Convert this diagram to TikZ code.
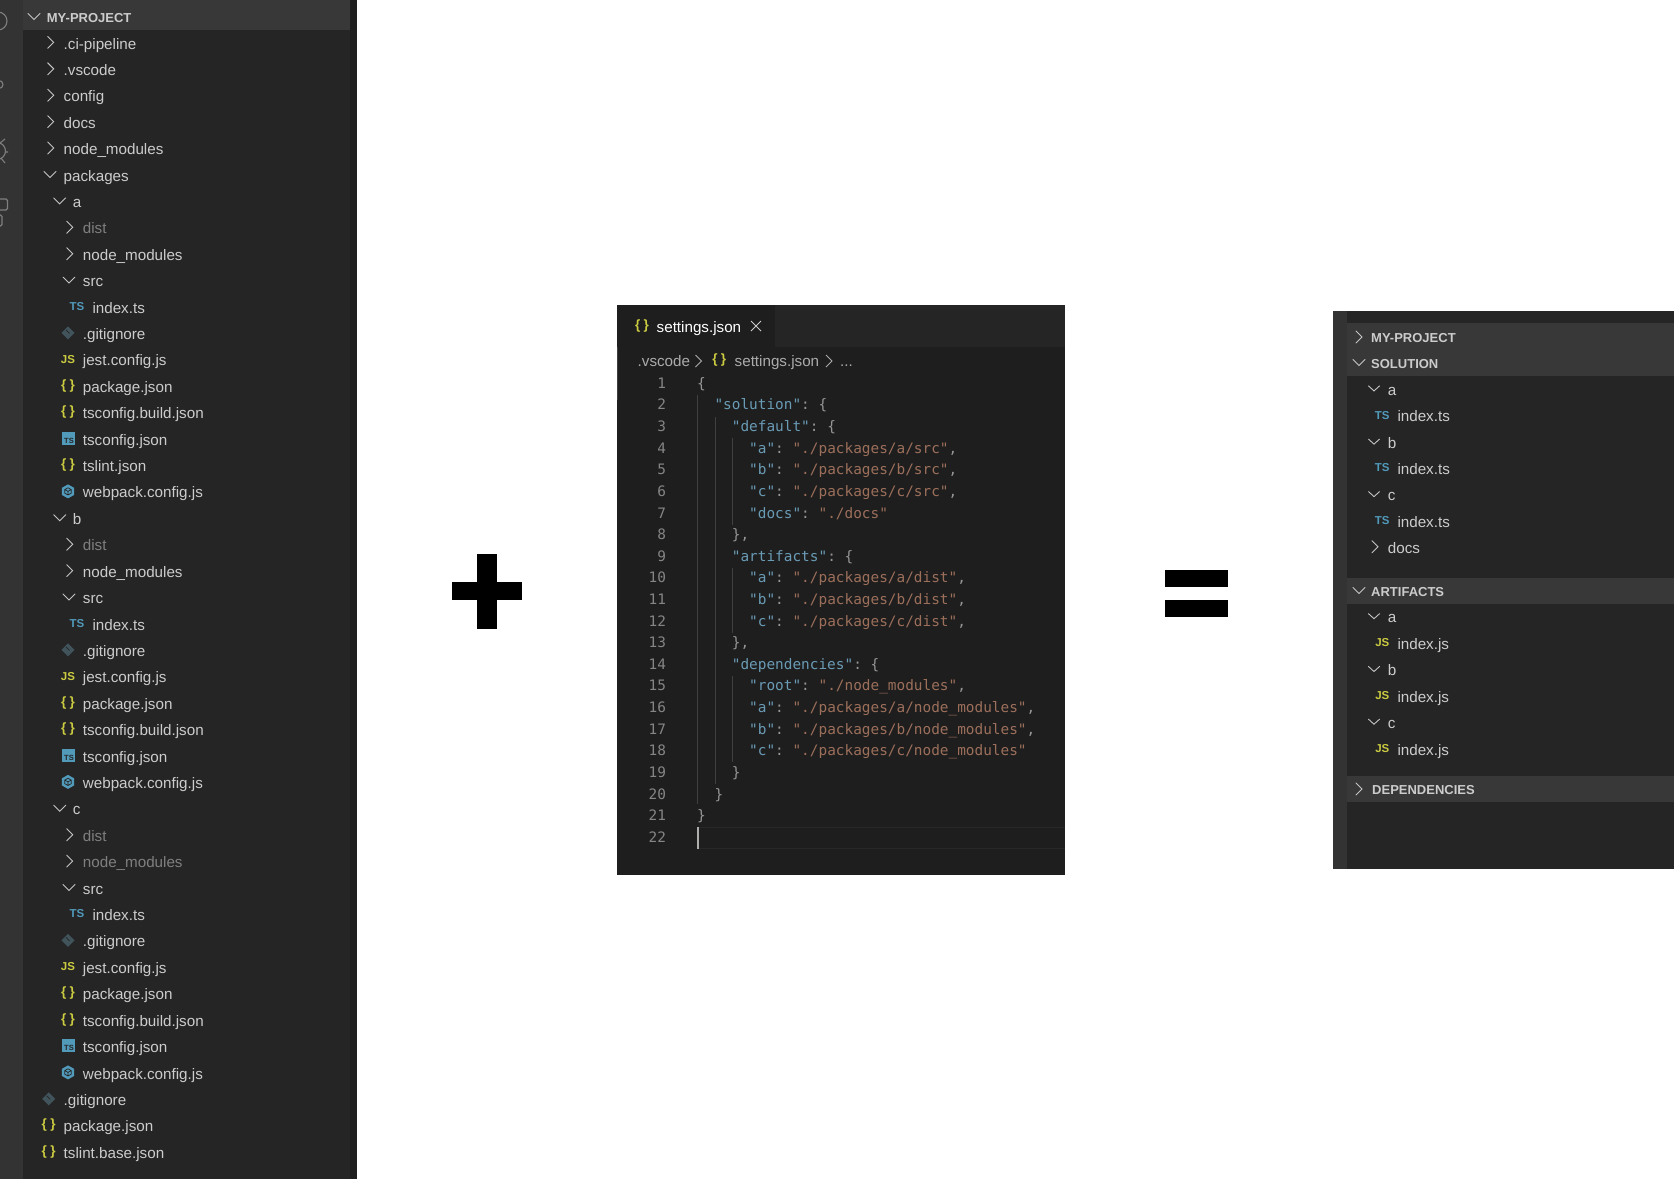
\documentclass[tikz,border=0pt]{standalone}
\usepackage{fontspec}
\setmainfont{Liberation Sans}
\setmonofont{DejaVu Sans Mono}
\definecolor{actbar}{HTML}{333333}
\definecolor{side}{HTML}{252526}
\definecolor{band}{HTML}{383838}
\definecolor{edit}{HTML}{1E1E1E}
\definecolor{strip}{HTML}{1E1E1E}
\definecolor{txt}{HTML}{CCCCCC}
\definecolor{dim}{HTML}{7F7F7F}
\definecolor{chev}{HTML}{C5C5C5}
\definecolor{icblue}{HTML}{519ABA}
\definecolor{icyel}{HTML}{CBCB41}
\definecolor{icgit}{HTML}{41535B}
\definecolor{ckey}{HTML}{6A9BB5}
\definecolor{cstr}{HTML}{9C6F5B}
\definecolor{cpun}{HTML}{969696}
\definecolor{cnum}{HTML}{858585}
\definecolor{guide}{HTML}{404040}
\definecolor{crumb}{HTML}{ABABAB}
\definecolor{curline}{HTML}{282828}
\definecolor{caret}{HTML}{AEAFAD}
\tikzset{
  lab/.style={anchor=base west,inner sep=0pt,text=txt,font=\fontsize{15.2}{18}\selectfont},
  dimlab/.style={lab,text=dim},
  head/.style={anchor=base west,inner sep=0pt,text=txt,font=\fontsize{13}{16}\selectfont\bfseries},
  chevline/.style={draw=chev,line width=0.9pt,line cap=round,line join=miter},
  code/.style={anchor=base west,inner sep=0pt,font=\fontsize{14.4}{18}\selectfont\ttfamily},
  lnum/.style={anchor=base east,inner sep=0pt,text=cnum,font=\fontsize{14.4}{18}\selectfont\ttfamily},
  guideline/.style={draw=guide,line width=0.8pt},
  bigsign/.style={fill=black,draw=none},
  brace/.style={inner sep=0pt,text=icyel,font=\fontsize{13.5}{14}\selectfont\bfseries},
}
% icons, drawn about the icon centre (0,0)
\newcommand\icopen{\draw[chevline] (-6,-3) -- (0,3) -- (6,-3);}
\newcommand\icclosed{\draw[chevline] (-3,-6) -- (3,0) -- (-3,6);}
\newcommand\icopensm{\draw[chevline] (-5.5,-2.5) -- (0,2.5) -- (5.5,-2.5);}
\newcommand\icts{\node[inner sep=0pt,text=icblue,font=\fontsize{11.5}{12}\selectfont\bfseries] {TS};}
\newcommand\icjs{\node[inner sep=0pt,text=icyel,font=\fontsize{11.5}{12}\selectfont\bfseries] {JS};}
\newcommand\icjson{\node[brace] {\{\kern3.4pt\}};}
\newcommand\icgit{\fill[icgit] (-6.5,0) -- (0,-6.5) -- (6.5,0) -- (0,6.5) -- cycle;
  \draw[side,line width=0.8pt] (-2,-3) -- (1.5,0.5);}
\newcommand\ictscfg{\fill[icblue] (-6.5,-6.5) rectangle (6.5,6.5);
  \node[inner sep=0pt,text=side,font=\fontsize{7.5}{8}\selectfont\bfseries] at (1,2) {TS};}
\newcommand\icpack{\fill[icblue] (0,-7) -- (6.2,-3.5) -- (6.2,3.5) -- (0,7) -- (-6.2,3.5) -- (-6.2,-3.5) -- cycle;
  \draw[side,line width=0.7pt] (0,-3.6) -- (3.2,-1.8) -- (3.2,1.8) -- (0,3.6) -- (-3.2,1.8) -- (-3.2,-1.8) -- cycle
    (-3.2,-1.8) -- (0,0) -- (3.2,-1.8) (0,0) -- (0,3.6);}
\newcommand\icon[3]{\begin{scope}[shift={(#2,#3)}]\csname ic#1\endcsname\end{scope}}
\newcommand\CK[1]{\textcolor{ckey}{#1}}
\newcommand\CS[1]{\textcolor{cstr}{#1}}
\newcommand\CP[1]{\textcolor{cpun}{#1}}
\begin{document}
\begin{tikzpicture}[x=1pt,y=-1pt]
\useasboundingbox (0,0) rectangle (1674,1179);
\fill[white] (0,0) rectangle (1674,1179);

%--------------- left explorer
\fill[actbar] (0,0) rectangle (23,1179);
\fill[side] (23,0) rectangle (350,1179);
\fill[strip] (350,0) rectangle (357,1179);
\fill[band] (23,0) rectangle (350,30);
\begin{scope}
  \clip (0,0) rectangle (23,1179);
  \draw[dim,line width=1.1pt] (-2,21) circle (9);
  \draw[dim,line width=1.1pt] (-1,84.5) circle (4);
  \draw[dim,line width=1.1pt] (-3,151) circle (8.5);
  \draw[dim,line width=1.1pt] (0,143) -- (5,139) (5,152) -- (8,152) (1,158) -- (5,163);
  \draw[dim,line width=1.1pt,rounded corners=1.5pt] (-6,199) rectangle (7.5,210);
  \draw[dim,line width=1.1pt,rounded corners=1.5pt] (-8,215) rectangle (2,226);
\end{scope}
\icon{open}{34}{16.5}
\node[head] (lefthead) at (46.7,22) {MY-PROJECT};

\foreach \ic/\ix/\tx/\lab/\sty [count=\n from 0] in {
  closed/50.7/63.5/.ci-pipeline/lab,
  closed/50.7/63.5/.vscode/lab,
  closed/50.7/63.5/config/lab,
  closed/50.7/63.5/docs/lab,
  closed/50.7/63.5/node\_modules/lab,
  open/50/63.5/packages/lab,
  open/59.7/72.7/a/lab,
  closed/69.7/82.7/dist/dimlab,
  closed/69.7/82.7/node\_modules/lab,
  open/69/82.7/src/lab,
  ts/77/92.3/index.ts/lab,
  git/68/82.7/.gitignore/lab,
  js/68/82.7/jest.config.js/lab,
  json/68/82.7/package.json/lab,
  json/68/82.7/tsconfig.build.json/lab,
  tscfg/68/82.7/tsconfig.json/lab,
  json/68/82.7/tslint.json/lab,
  pack/68/82.7/webpack.config.js/lab,
  open/59.7/72.7/b/lab,
  closed/69.7/82.7/dist/dimlab,
  closed/69.7/82.7/node\_modules/lab,
  open/69/82.7/src/lab,
  ts/77/92.3/index.ts/lab,
  git/68/82.7/.gitignore/lab,
  js/68/82.7/jest.config.js/lab,
  json/68/82.7/package.json/lab,
  json/68/82.7/tsconfig.build.json/lab,
  tscfg/68/82.7/tsconfig.json/lab,
  pack/68/82.7/webpack.config.js/lab,
  open/59.7/72.7/c/lab,
  closed/69.7/82.7/dist/dimlab,
  closed/69.7/82.7/node\_modules/dimlab,
  open/69/82.7/src/lab,
  ts/77/92.3/index.ts/lab,
  git/68/82.7/.gitignore/lab,
  js/68/82.7/jest.config.js/lab,
  json/68/82.7/package.json/lab,
  json/68/82.7/tsconfig.build.json/lab,
  tscfg/68/82.7/tsconfig.json/lab,
  pack/68/82.7/webpack.config.js/lab,
  git/48.7/63.5/.gitignore/lab,
  json/48.7/63.5/package.json/lab,
  json/48.7/63.5/tslint.base.json/lab}
{
  \pgfmathsetmacro\by{49+\n*26.41}
  \pgfmathsetmacro\iy{\by-6.6}
  \icon{\ic}{\ix}{\iy}
  \node[\sty] (left\n) at (\tx,\by) {\lab};
}

%--------------- plus
\fill[bigsign] (477,554) rectangle (497,629);
\fill[bigsign] (452,582) rectangle (522,600);

%--------------- editor
\fill[edit] (617,305) rectangle (1065,875);
\fill[side] (775,305) rectangle (1065,347);
\draw[guide,line width=0.6pt] (617.5,347) -- (617.5,400);
\icon{json}{642}{326.5}
\node[lab,text=white] (tabname) at (656.5,332) {settings.json};
\draw[txt,line width=0.8pt] (751,321) -- (761,331) (761,321) -- (751,331);

\node[lab,text=crumb] (crumb1) at (637.5,366) {.vscode};
\draw[crumb,line width=0.9pt] (695.5,355) -- (701.5,361) -- (695.5,367);
\icon{json}{719.3}{360}
\node[lab,text=crumb] (crumb2) at (734.5,366) {settings.json};
\draw[crumb,line width=0.9pt] (826,355) -- (832,361) -- (826,367);
\node[lab,text=crumb] (crumb3) at (840,366) {...};

% indent guides
\draw[guideline] (697.7,395) -- (697.7,804);
\draw[guideline] (715.7,417) -- (715.7,784);
\draw[guideline] (732.4,438) -- (732.4,525);
\draw[guideline] (732.4,568) -- (732.4,633);
\draw[guideline] (732.4,676) -- (732.4,762);
% current line
\draw[curline,line width=1pt] (697,827.5) -- (1065,827.5) (697,848.5) -- (1065,848.5);
\fill[caret] (697,827) rectangle (699,849);

\foreach \ind/\content [count=\n from 1] in {
  0/\CP{\{},
  1/\CK{"solution"}\CP{: \{},
  2/\CK{"default"}\CP{: \{},
  3/\CK{"a"}\CP{: }\CS{"./packages/a/src"}\CP{,},
  3/\CK{"b"}\CP{: }\CS{"./packages/b/src"}\CP{,},
  3/\CK{"c"}\CP{: }\CS{"./packages/c/src"}\CP{,},
  3/\CK{"docs"}\CP{: }\CS{"./docs"},
  2/\CP{\},},
  2/\CK{"artifacts"}\CP{: \{},
  3/\CK{"a"}\CP{: }\CS{"./packages/a/dist"}\CP{,},
  3/\CK{"b"}\CP{: }\CS{"./packages/b/dist"}\CP{,},
  3/\CK{"c"}\CP{: }\CS{"./packages/c/dist"}\CP{,},
  2/\CP{\},},
  2/\CK{"dependencies"}\CP{: \{},
  3/\CK{"root"}\CP{: }\CS{"./node\_modules"}\CP{,},
  3/\CK{"a"}\CP{: }\CS{"./packages/a/node\_modules"}\CP{,},
  3/\CK{"b"}\CP{: }\CS{"./packages/b/node\_modules"}\CP{,},
  3/\CK{"c"}\CP{: }\CS{"./packages/c/node\_modules"},
  2/\CP{\}},
  1/\CP{\}},
  0/\CP{\}},
  0/{}}
{
  \pgfmathsetmacro\by{388.3+(\n-1)*21.62}
  \pgfmathsetmacro\cx{697+\ind*17.34}
  \node[lnum] (num\n) at (666.2,\by) {\n};
  \node[code] (code\n) at (\cx,\by) {\content};
}

%--------------- equals
\fill[bigsign] (1165,570) rectangle (1228,587);
\fill[bigsign] (1165,600) rectangle (1228,617);

%--------------- right explorer
\fill[actbar] (1333,311) rectangle (1347,869);
\fill[side] (1347,311) rectangle (1674,869);
\fill[band] (1347,323) rectangle (1674,376);
\fill[band] (1347,578) rectangle (1674,604);
\fill[band] (1347,776) rectangle (1674,802);

\icon{closed}{1359}{337}
\node[head] (rh1) at (1371,342) {MY-PROJECT};
\icon{open}{1359}{362.5}
\node[head] (rh2) at (1371,368.3) {SOLUTION};
\icon{open}{1359}{590.5}
\node[head] (rh3) at (1371,596) {ARTIFACTS};
\icon{closed}{1359}{789}
\node[head] (rh4) at (1372,794.3) {DEPENDENCIES};

\foreach \ic/\ix/\tx/\lab/\by [count=\n from 1] in {
  opensm/1374/1387.7/a/395,
  ts/1382.3/1397.3/index.ts/421.7,
  opensm/1374/1387.7/b/448.2,
  ts/1382.3/1397.3/index.ts/474.5,
  opensm/1374/1387.7/c/500.7,
  ts/1382.3/1397.3/index.ts/527,
  closed/1375/1387.7/docs/553.4,
  opensm/1374/1387.7/a/622.8,
  js/1382.3/1397.3/index.js/649,
  opensm/1374/1387.7/b/675.6,
  js/1382.3/1397.3/index.js/702,
  opensm/1374/1387.7/c/728.3,
  js/1382.3/1397.3/index.js/755}
{
  \pgfmathsetmacro\iy{\by-6.6}
  \icon{\ic}{\ix}{\iy}
  \node[lab] (right\n) at (\tx,\by) {\lab};
}
\end{tikzpicture}
\end{document}
